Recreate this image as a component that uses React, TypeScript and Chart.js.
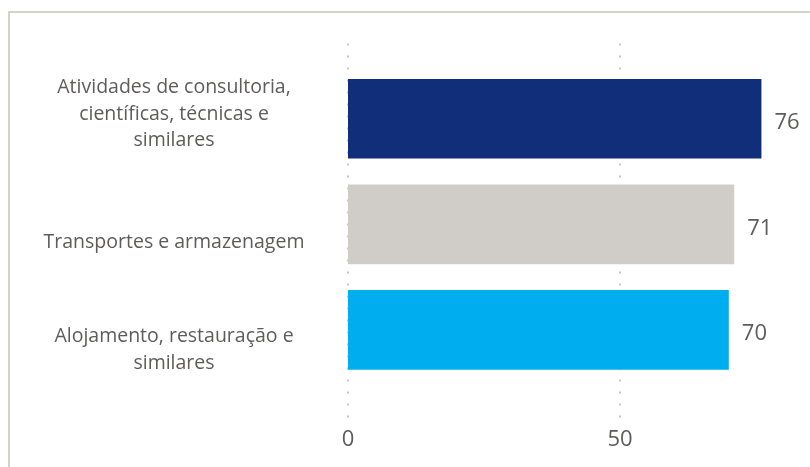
import React, { useEffect, useRef } from "react";
import { Chart, registerables } from "chart.js";

Chart.register(...registerables);

// ---- data ----
const categoryLines: string[][] = [
  ["Atividades de consultoria,", "científicas, técnicas e", "similares"],
  ["Transportes e armazenagem"],
  ["Alojamento, restauração e", "similares"],
];
const values: number[] = [76, 71, 70];
const barColors: string[] = ["#102E7A", "#D0CDC8", "#00AEEF"];
const xTickValues: number[] = [0, 50, 100];

// ---- layout / style constants ----
const labelShift: number[] = [-0.045, 0.175, 0.19]; // category-label offset (in category units)
const FONT = '"Open Sans", "Noto Sans", sans-serif';
const TEXT = "#5E5C5A";
const LABEL_SIZE = 19.5;
const NUM_SIZE = 22;
const CANVAS_W = 910;
const CANVAS_H = 504;
const AXIS_W = 338;
const LABEL_CENTER_X = 164;

const gridPlugin = {
  id: "dotGrid",
  beforeDatasetsDraw(chart: any) {
    const { ctx, chartArea, scales } = chart;
    const xs = scales.x;
    ctx.save();
    ctx.strokeStyle = "#C8C8C8";
    ctx.lineWidth = 2;
    ctx.setLineDash([2, 10]);
    xs.ticks.forEach((t: any) => {
      const x = xs.getPixelForValue(t.value);
      ctx.beginPath();
      ctx.moveTo(x, chartArea.top - 22.5);
      ctx.lineTo(x, chartArea.bottom + 35);
      ctx.stroke();
    });
    ctx.restore();
  },
};

const valueLabelPlugin = {
  id: "valueLabels",
  afterDatasetsDraw(chart: any) {
    const { ctx } = chart;
    const meta = chart.getDatasetMeta(0);
    ctx.save();
    ctx.font = `${NUM_SIZE}px ${FONT}`;
    ctx.fillStyle = TEXT;
    ctx.textAlign = "left";
    ctx.textBaseline = "middle";
    meta.data.forEach((bar: any, i: number) => {
      ctx.fillText(String(values[i]), bar.x + 13, bar.y + 4);
    });
    ctx.restore();
  },
};

export default function App() {
  const ref = useRef<HTMLCanvasElement | null>(null);

  useEffect(() => {
    const canvas = ref.current;
    if (!canvas) return;
    const m = document.createElement("canvas").getContext("2d")!;
    m.font = `${LABEL_SIZE}px ${FONT}`;
    let widest = 0;
    categoryLines.forEach((ls) =>
      ls.forEach((l) => {
        widest = Math.max(widest, m.measureText(l).width);
      })
    );
    const labelPad = Math.max(0, AXIS_W - LABEL_CENTER_X - widest / 2);

    const chart = new Chart(canvas, {
      type: "bar",
      data: {
        labels: categoryLines.map((l) => l.join(" ")),
        datasets: [
          {
            data: values,
            backgroundColor: barColors,
            borderWidth: 0,
            barPercentage: 0.755,
            categoryPercentage: 1,
            yAxisID: "y",
            xAxisID: "x",
          },
        ],
      },
      options: {
        indexAxis: "y",
        animation: false,
        responsive: false,
        maintainAspectRatio: false,
        layout: { padding: { top: 53, right: 28, bottom: 20, left: 0 } },
        plugins: {
          legend: { display: false },
          tooltip: { enabled: false },
        },
        scales: {
          x: {
            type: "linear",
            position: "bottom",
            min: 0,
            max: 100,
            afterBuildTicks: (s: any) => {
              s.ticks = xTickValues.map((v) => ({ value: v }));
            },
            afterFit: (s: any) => {
              s.paddingLeft = 0;
              s.paddingRight = 0;
            },
            grid: { display: false, drawTicks: false },
            border: { display: false },
            ticks: {
              padding: 44,
              color: TEXT,
              font: { family: FONT, size: NUM_SIZE, lineHeight: 1.2 },
              autoSkip: false,
            },
          },
          y: {
            type: "category",
            display: false,
            grid: { display: false },
          },
          yl: {
            type: "linear",
            position: "left",
            offset: false,
            min: -0.5,
            max: 2.5,
            reverse: true,
            afterBuildTicks: (s: any) => {
              s.ticks = labelShift.map((d, i) => ({ value: i + d }));
            },
            afterFit: (s: any) => {
              s.width = AXIS_W;
              s.paddingTop = 0;
              s.paddingBottom = 0;
            },
            grid: { display: false, drawTicks: false, offset: false },
            border: { display: false },
            ticks: {
              autoSkip: false,
              crossAlign: "center",
              padding: labelPad,
              color: TEXT,
              font: { family: FONT, size: LABEL_SIZE, lineHeight: 1.37 },
              callback: (_v: any, i: number) => categoryLines[i],
            },
          },
        },
      },
      plugins: [gridPlugin, valueLabelPlugin],
    } as any);
    return () => chart.destroy();
  }, []);

  return (
    <div
      style={{
        position: "fixed",
        left: 0,
        top: 0,
        width: 810,
        height: 467,
        overflow: "hidden",
        background: "#ffffff",
      }}
    >
      <div
        style={{
          position: "absolute",
          left: 8,
          top: 11,
          width: 1000,
          height: 600,
          border: "2px solid #D5D2CD",
          boxSizing: "border-box",
        }}
      >
        <canvas
          ref={ref}
          width={CANVAS_W}
          height={CANVAS_H}
          style={{ position: "absolute", left: 0, top: 0, width: CANVAS_W, height: CANVAS_H }}
        />
      </div>
    </div>
  );
}
